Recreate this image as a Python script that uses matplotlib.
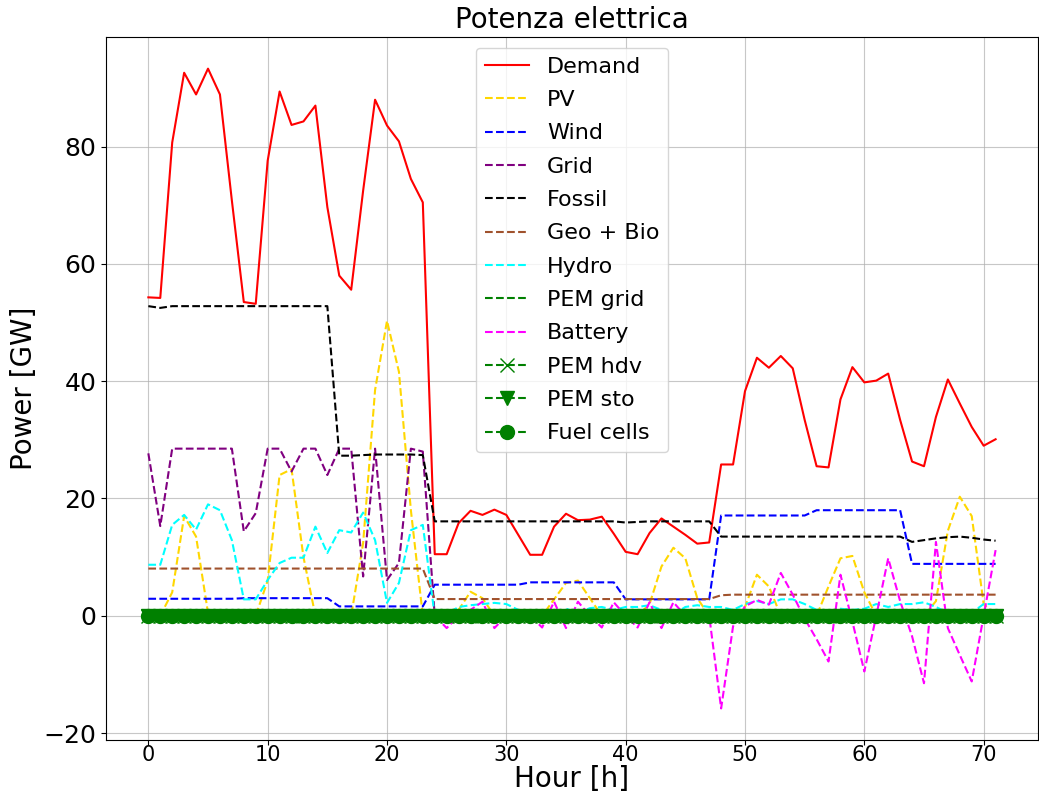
import matplotlib
matplotlib.use("Agg")
import matplotlib.pyplot as plt

# hourly values over three days, GW
hours = list(range(72))

demand = [54.3, 54.2, 80.7, 92.6, 88.9, 93.3, 88.9, 70.8, 53.5, 53.2, 77.6, 89.4,
          83.7, 84.3, 87.0, 69.7, 58.0, 55.6, 72.5, 88.0, 83.6, 80.9, 74.5, 70.5,
          10.5, 10.5, 15.8, 17.9, 17.2, 18.1, 17.2, 13.8, 10.4, 10.4, 15.2, 17.4,
          16.3, 16.4, 16.9, 14.0, 10.9, 10.5, 14.1, 16.6, 15.2, 13.8, 12.3, 12.5,
          25.8, 25.8, 38.3, 44.0, 42.3, 44.3, 42.2, 33.4, 25.5, 25.3, 36.9, 42.4,
          39.8, 40.1, 41.3, 33.4, 26.3, 25.5, 33.9, 40.3, 36.2, 32.2, 29.0, 30.1]

pv = [0, 0, 4.0, 17.0, 13.5, 0.5, 0, 0, 0, 0, 6.0, 24.0,
      25.0, 10.0, 0, 0, 0, 0, 12.4, 38.5, 50.3, 41.6, 18.0, 0,
      0, 0, 1.0, 4.1, 3.0, 0, 0, 0, 0, 0, 2.8, 5.6,
      6.0, 3.0, 0, 0, 0, 0, 2.0, 8.4, 11.6, 9.8, 3.0, 0,
      0, 0, 1.5, 7.0, 5.0, 0, 0, 0, 0, 5.0, 9.8, 10.2,
      4.0, 0, 0, 0, 0, 0, 2.5, 14.5, 20.3, 17.0, 2.0, 0]

wind = [2.9, 2.9, 2.9, 2.9, 2.9, 2.9, 2.9, 2.9, 3.0, 3.0, 3.0, 3.0,
        3.0, 3.0, 3.0, 3.0, 1.6, 1.6, 1.6, 1.6, 1.6, 1.6, 1.6, 1.6,
        5.3, 5.3, 5.3, 5.3, 5.3, 5.3, 5.3, 5.3, 5.7, 5.7, 5.7, 5.7,
        5.7, 5.7, 5.7, 5.7, 2.8, 2.8, 2.8, 2.8, 2.8, 2.8, 2.8, 2.8,
        17.1, 17.1, 17.1, 17.1, 17.1, 17.1, 17.1, 17.1, 18.0, 18.0, 18.0, 18.0,
        18.0, 18.0, 18.0, 18.0, 8.85, 8.85, 8.85, 8.85, 8.85, 8.85, 8.85, 8.85]

grid = [27.7, 15.3, 28.5, 28.5, 28.5, 28.5, 28.5, 28.5, 14.4, 17.5, 28.5, 28.5,
        24.6, 28.5, 28.5, 24.0, 28.5, 28.5, 6.7, 28.5, 6.1, 9.0, 28.5, 28.0,
        0, 0, 0, 0, 0, 0, 0, 0, 0, 0, 0, 0,
        0, 0, 0, 0, 0, 0, 0, 0, 0, 0, 0, 0,
        0, 0, 0, 0, 0, 0, 0, 0, 0, 0, 0, 0,
        0, 0, 0, 0, 0, 0, 0, 0, 0, 0, 0, 0]

fossil = [52.8, 52.5, 52.8, 52.8, 52.8, 52.8, 52.8, 52.8, 52.8, 52.8, 52.8, 52.8,
          52.8, 52.8, 52.8, 52.8, 27.3, 27.3, 27.4, 27.5, 27.5, 27.5, 27.5, 27.4,
          16.1, 16.1, 16.1, 16.1, 16.1, 16.1, 16.1, 16.1, 16.1, 16.1, 16.1, 16.1,
          16.1, 16.1, 16.1, 16.1, 15.9, 16.0, 16.1, 16.1, 16.1, 16.1, 16.1, 16.1,
          13.5, 13.5, 13.5, 13.5, 13.5, 13.5, 13.5, 13.5, 13.5, 13.5, 13.5, 13.5,
          13.5, 13.5, 13.5, 13.5, 12.6, 12.9, 13.2, 13.4, 13.5, 13.3, 13.0, 12.8]

geo_bio = [8.05, 8.05, 8.05, 8.05, 8.05, 8.05, 8.05, 8.05, 8.05, 8.05, 8.05, 8.05,
           8.05, 8.05, 8.05, 8.05, 8.05, 8.05, 8.05, 8.05, 8.05, 8.05, 8.05, 8.05,
           2.85, 2.85, 2.85, 2.85, 2.85, 2.85, 2.85, 2.85, 2.85, 2.85, 2.85, 2.85,
           2.85, 2.85, 2.85, 2.85, 2.85, 2.85, 2.85, 2.85, 2.85, 2.85, 2.85, 2.85,
           3.5, 3.6, 3.6, 3.6, 3.6, 3.6, 3.6, 3.6, 3.6, 3.6, 3.6, 3.6,
           3.6, 3.6, 3.6, 3.6, 3.6, 3.6, 3.6, 3.6, 3.6, 3.6, 3.6, 3.6]

hydro = [8.7, 8.7, 15.5, 17.2, 14.7, 19.0, 18.0, 12.9, 2.8, 2.8, 6.1, 9.0,
         9.9, 9.9, 15.2, 10.7, 14.6, 14.2, 17.6, 12.9, 2.2, 5.6, 14.6, 15.5,
         0, 0.3, 1.5, 1.8, 2.0, 2.2, 2.0, 1.0, 0.3, 0, 0.3, 1.2,
         0.5, 1.3, 1.5, 1.0, 1.5, 1.5, 1.8, 1.0, 0.2, 1.5, 1.8, 1.5,
         1.5, 1.0, 2.0, 2.5, 2.0, 2.8, 2.8, 2.0, 1.0, 0.5, 1.2, 1.0,
         1.2, 2.0, 1.5, 2.0, 2.0, 2.3, 1.5, 0.5, 0.2, 0.5, 2.0, 2.0]

battery = [0, 0, 0, 0, 0, 0, 0, 0, 0, 0, 0, 0,
           0, 0, 0, 0, 0, 0, 0, 0, 0, 0, 0, 0,
           0, -2.1, 0, 1.0, 2.4, -2.1, 0, 0, 0, -2.0, 2.4, -2.1,
           2.4, 0, -2.0, 2.3, 0, -2.0, 2.3, -2.1, 2.3, 0, 0.5, 0,
           -15.8, -1.8, 1.6, 2.7, 1.9, 7.3, 3.6, -0.5, -4.0, -7.8, 7.0, -1.0,
           -9.5, 0, 9.8, 2.5, -3.5, -11.5, 12.6, -2.1, -6.7, -11.2, 0, 11.2]

pem_grid = [0] * 72
pem_hdv = [0] * 72
pem_sto = [0] * 72
fuel_cells = [0] * 72

fig, ax = plt.subplots(figsize=(10.39, 7.97), dpi=100)
fig.subplots_adjust(left=0.102, right=0.999, top=0.954, bottom=0.071)

ax.plot(hours, demand, color='red', label='Demand')
ax.plot(hours, pv, color='gold', linestyle='--', label='PV')
ax.plot(hours, wind, color='blue', linestyle='--', label='Wind')
ax.plot(hours, grid, color='purple', linestyle='--', label='Grid')
ax.plot(hours, fossil, color='black', linestyle='--', label='Fossil')
ax.plot(hours, geo_bio, color='sienna', linestyle='--', label='Geo + Bio')
ax.plot(hours, hydro, color='cyan', linestyle='--', label='Hydro')
ax.plot(hours, pem_grid, color='green', linestyle='--', label='PEM grid')
ax.plot(hours, battery, color='magenta', linestyle='--', label='Battery')
ax.plot(hours, pem_hdv, color='green', linestyle='--', marker='x', markersize=10, label='PEM hdv')
ax.plot(hours, pem_sto, color='green', linestyle='--', marker='v', markersize=10, label='PEM sto')
ax.plot(hours, fuel_cells, color='green', linestyle='--', marker='o', markersize=10, label='Fuel cells')

ax.set_title("Potenza elettrica", fontsize=20)
ax.set_xlabel("Hour [h]", fontsize=20, labelpad=0)
ax.set_ylabel("Power [GW]", fontsize=20)
ax.tick_params(axis='y', labelsize=18)
ax.tick_params(axis='x', labelsize=15, pad=0)
ax.grid(True, color='#b0b0b0', alpha=0.7)
ax.legend(loc='upper center', fontsize=16, labelspacing=0.6)

plt.savefig("out.png", dpi=100)
